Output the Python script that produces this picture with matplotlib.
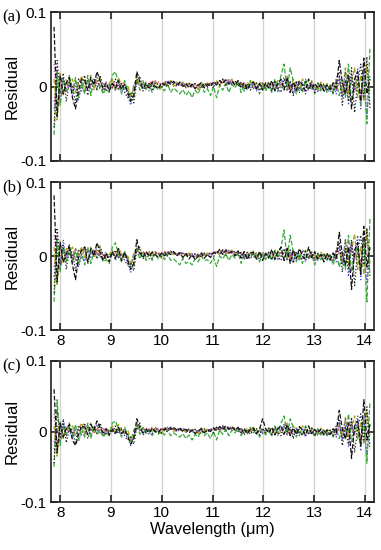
import numpy as np
import matplotlib
matplotlib.use("Agg")
import matplotlib.pyplot as plt

# Wavelength grid (um) and residuals (x1e-3)
wl_start, wl_end, n_pts = 7.88, 14.10, 104
wavelength = np.linspace(wl_start, wl_end, n_pts)

panel_labels = ["(a)", "(b)", "(c)"]
x_ticks = [8, 9, 10, 11, 12, 13, 14]
y_ticks = [-0.1, 0, 0.1]
y_tick_labels = ["-0.1", "0", "0.1"]

a_black = [80, -40, 15, -10, 5, 12, -15, -30, -5, 10,
           8, -5, 12, 2, 20, 8, -3, 5, -6, 4,
           -2, 8, -4, 3, -8, -20, -12, 20, 6, -3,
           4, -2, 6, 0, -3, 5, 2, 6, 3, 7,
           2, 5, 0, 4, -2, 3, -3, 2, 5, -2,
           3, 0, 6, 2, 8, 4, 9, 3, 7, 2,
           8, -2, 5, -4, 3, 6, -3, 4, -5, 5,
           -2, 8, -6, 4, 10, -4, 12, -8, 6, -5,
           8, 2, -6, 10, -3, 4, -2, 3, -6, 2,
           -4, 5, -2, 35, 5, -10, 15, -30, 10, 20,
           -20, 38, -10, 10]
a_black2 = [-55, 35, -10, 18, -20, 6, 2, -22, 10, 4,
            15, -12, 4, 10, -4, 15, 0, -6, 2, -2,
            10, -4, 4, -8, -15, -8, -22, 8, 14, -6,
            0, 4, -4, 5, 2, -2, 6, -1, 8, 4,
            0, 6, 3, -1, 4, -2, 4, 1, -3, 5,
            0, 5, -2, 7, 2, 10, 0, 6, 3, 8,
            0, 6, -6, 4, -5, 2, 5, -6, 6, -2,
            6, -6, 8, -2, -8, 10, 0, 6, -12, 8,
            -2, -6, 8, -4, 6, -8, 4, -2, 4, -6,
            2, -8, 10, 20, -25, 8, -20, 25, -35, 5,
            30, -15, 40, -30]
a_red = [-20, 10, 5, -8, 10, 3, -5, 8, 2, -6,
         10, 3, 6, -4, 8, 2, 5, -2, 3, 0,
         4, -3, 6, 2, -5, -10, -4, 8, 4, 2,
         6, 3, 8, 4, 6, 2, 7, 4, 6, 3,
         5, 2, 4, 1, 3, 0, 2, -1, 3, 1,
         4, 2, 6, 4, 8, 5, 10, 6, 8, 4,
         6, 2, 4, 0, 5, 2, -2, 3, 0, 4,
         2, -3, 5, -2, 4, 0, -6, 3, -4, 2,
         -3, 4, 0, -5, 2, -3, 1, -4, 0, -2,
         -5, 2, -3, 4, -8, 6, -10, 8, -4, 2,
         -6, 5, 0, -3]
a_green = [-65, 20, -25, 10, -5, 15, -8, 12, -15, 5,
           -10, 15, -12, 8, -5, 2, -10, -3, -8, 15,
           20, 5, -10, 8, -5, -18, 2, 10, -5, 8,
           -4, 3, -8, 2, -5, 0, -6, 4, -8, -2,
           -6, -10, -4, -12, -6, -15, -5, -10, 2, -8,
           -3, -12, 0, -15, 2, -5, 4, -8, 3, -2,
           6, -8, 2, -5, 8, -3, 5, -10, 3, -6,
           4, -8, 10, -4, 15, 30, -5, 25, 8, -10,
           5, -8, 10, -5, 3, -10, 5, -6, 2, -8,
           3, -10, 5, -12, 8, -15, 30, -20, 5, 10,
           -25, 20, -50, 52]
a_olive = [10, -45, 18, -12, 8, 0, 10, -8, 5, 14,
           -4, 6, 15, -2, 10, 12, -8, 0, 4, 10,
           -6, 12, 2, -4, 2, -12, -15, 14, 0, 6,
           -3, 5, -2, 8, 0, -4, 6, 2, 8, 0,
           6, 2, 6, -2, 5, 2, 4, -4, 6, 0,
           5, 2, 4, 8, 0, 10, 2, 6, 10, 0,
           4, 6, -2, 6, 0, 8, -2, 6, 2, -4,
           6, 2, -4, 8, -2, 6, 15, -3, 10, 0,
           -6, 10, 4, -3, 8, 0, -5, 6, -3, 4,
           0, -6, 8, 10, -10, 25, -8, 5, 25, -15,
           15, -20, 30, -8]
a_blue = [-30, 5, -20, 12, -8, 2, -12, 5, -18, 0,
          -8, 10, -4, 6, 12, -2, -6, 2, -4, 6,
          -5, 2, -8, 0, -12, -25, -8, 6, 2, -4,
          2, -6, 4, -2, 0, 3, 5, 8, 4, 6,
          3, 6, 2, 5, 0, 4, -2, 3, 0, 2,
          -2, 4, 3, 6, 2, 8, 5, 9, 4, 6,
          2, 5, -3, 2, -2, 4, -6, 2, -4, 3,
          0, -6, 4, -8, 3, 12, -6, 8, -10, 4,
          -8, 6, -10, 2, -5, 3, -8, 0, -6, -3,
          -8, 2, -10, 15, -15, 20, -25, 12, -5, 25,
          -30, 25, -40, 15]
a_magenta = [30, -25, 10, 3, -5, 8, 0, -6, 4, 12,
             2, 8, 0, 10, 4, -3, 2, 6, -2, 3,
             0, 6, -2, 4, -6, -15, -3, 4, 8, 2,
             5, 0, 4, 7, 3, 5, 1, 4, 6, 2,
             4, 0, 5, 2, 4, 1, 3, 0, 2, 4,
             1, 5, 2, 7, 4, 6, 3, 8, 5, 3,
             5, 0, 3, -2, 4, 1, -4, 2, -2, 3,
             0, 4, -3, 2, 6, -5, 4, -6, 2, -4,
             3, -6, 2, -2, 5, -6, 0, 3, -3, 1,
             -5, 3, -6, 8, -12, 10, -5, 18, -8, 15,
             -15, 12, 20, -25]

b_black = [82, -35, 18, -8, 2, 15, -12, -32, -2, 8,
           12, -8, 10, 0, 18, 5, -6, 4, -8, 6,
           -3, 10, -6, 5, -6, -18, -10, 22, 4, -2,
           6, 0, 5, 2, -2, 4, 0, 5, 2, 6,
           0, 4, -2, 3, -4, 2, -5, 0, 4, -3,
           2, -2, 5, 3, 9, 2, 8, 4, 6, 0,
           7, -3, 6, -5, 4, 5, -4, 6, -6, 4,
           -3, 9, -5, 6, 12, -6, 10, -10, 8, -4,
           10, 0, -5, 12, -2, 6, -4, 2, -8, 4,
           -5, 4, -3, 32, 2, -12, 12, -45, 8, 18,
           -25, 40, -15, 12]
b_black2 = [-50, 38, -12, 15, -18, 8, 4, -20, 8, 6,
            12, -10, 6, 8, -2, 12, 2, -4, 0, 0,
            8, -2, 2, -6, -12, -10, -20, 10, 12, -4,
            2, 3, -3, 4, 3, -1, 5, 0, 6, 5,
            1, 5, 2, 0, 3, -1, 3, 2, -2, 4,
            1, 4, -1, 6, 3, 8, 1, 5, 4, 7,
            1, 5, -5, 5, -4, 3, 4, -5, 5, -1,
            5, -5, 7, -1, -6, 8, 1, 5, -10, 6,
            -1, -5, 6, -3, 5, -6, 3, -1, 3, -5,
            1, -6, 8, 18, -22, 10, -18, 22, -40, 8,
            28, -12, 38, -28]
b_red = [-15, 15, 2, -10, 8, 5, -3, 10, 4, -4,
         12, 5, 8, -2, 6, 0, 4, -3, 2, 2,
         5, -2, 4, 3, -4, -8, -2, 10, 3, 4,
         5, 2, 6, 5, 4, 3, 6, 5, 7, 2,
         4, 3, 3, 0, 2, -1, 1, -2, 2, 2,
         3, 3, 5, 5, 7, 6, 9, 5, 7, 5,
         5, 3, 3, 1, 4, 3, -1, 4, 1, 3,
         3, -2, 4, -1, 5, 1, -5, 4, -3, 3,
         -2, 5, 1, -4, 3, -2, 2, -3, 1, -1,
         -4, 3, -2, 5, -6, 8, -12, 6, -2, 4,
         -8, 6, 2, -2]
b_green = [-62, 25, -22, 12, -8, 12, -6, 10, -12, 3,
           -12, 12, -10, 6, -3, 4, -8, -5, -10, 12,
           18, 3, -8, 6, -4, -15, 4, 8, -4, 6,
           -6, 2, -6, 4, -4, 2, -5, 3, -6, -4,
           -8, -12, -3, -10, -8, -12, -4, -8, 0, -6,
           -5, -10, -2, -14, 0, -4, 3, -6, 2, -3,
           5, -10, 3, -4, 6, -2, 4, -8, 2, -5,
           5, -6, 8, -3, 12, 35, -4, 28, 6, -8,
           4, -10, 8, -4, 2, -12, 4, -5, 3, -6,
           2, -12, 4, -15, 6, -18, 28, -22, 4, 12,
           -20, 25, -62, 50]
b_olive = [12, -40, 20, -10, 10, 2, 12, -6, 3, 12,
           -2, 8, 12, 0, 8, 14, -6, 2, 2, 8,
           -4, 10, 4, -2, 0, -10, -14, 12, 2, 4,
           -2, 6, 0, 6, 2, -3, 5, 3, 6, 2,
           5, 3, 5, 0, 4, 3, 3, -3, 5, 1,
           4, 3, 3, 7, 1, 9, 3, 5, 8, 1,
           3, 5, -1, 5, 1, 7, -1, 5, 3, -3,
           5, 3, -3, 7, -1, 5, 12, -2, 8, 2,
           -5, 8, 5, -2, 6, 1, -4, 5, -2, 3,
           1, -5, 6, 12, -12, 22, -10, 8, 30, -18,
           12, -25, 35, -10]
b_blue = [-28, 8, -18, 22, -6, 4, -10, 6, -15, 2,
          -6, 8, -2, 8, 10, 0, -4, 3, -2, 5,
          -6, 3, -6, 2, -10, -22, -6, 8, 3, -2,
          3, -4, 5, 0, 1, 2, 4, 6, 5, 5,
          2, 5, 3, 4, 1, 3, -1, 2, 1, 3,
          -1, 3, 4, 5, 3, 7, 6, 8, 5, 5,
          3, 4, -2, 3, -1, 3, -5, 3, -3, 2,
          1, -5, 5, -6, 4, 10, -5, 10, -8, 5,
          -6, 8, -8, 3, -4, 4, -6, 1, -5, -2,
          -6, 3, -8, 18, -12, 22, -28, 15, -4, 28,
          -32, 22, -38, 12]
b_magenta = [28, -20, 12, 5, -3, 10, 2, -4, 6, 10,
             4, 10, 2, 8, 3, -2, 3, 5, -1, 4,
             1, 5, -1, 5, -5, -12, -2, 5, 6, 3,
             4, 1, 3, 6, 4, 4, 2, 5, 5, 3,
             3, 1, 4, 3, 3, 2, 2, 1, 3, 3,
             2, 4, 3, 6, 5, 5, 4, 7, 4, 4,
             4, 1, 2, -1, 3, 2, -3, 3, -1, 2,
             1, 3, -2, 3, 5, -4, 5, -5, 3, -3,
             2, -5, 3, -1, 4, -5, 1, 2, -2, 2,
             -4, 4, -5, 10, -10, 12, -6, 20, -6, 18,
             -12, 15, 25, -20]

c_black = [60, -30, 12, -8, 4, 10, -12, -20, -4, 8,
           6, -4, 10, 2, 15, 6, -2, 4, -5, 3,
           -2, 6, -3, 2, -6, -18, -10, 18, 5, -2,
           3, -2, 5, 0, -2, 4, 2, 5, 3, 6,
           2, 4, 0, 3, -2, 2, -3, 1, 4, -2,
           2, 0, 5, 2, 7, 3, 8, 3, 6, 2,
           6, -2, 4, -3, 3, 5, -3, 3, 18, 4,
           -2, 6, -5, 4, 8, -4, 10, -6, 5, -4,
           7, 2, -5, 8, -3, 3, -2, 3, -5, 2,
           -4, 4, -2, 30, 4, -10, 12, -38, 8, 15,
           -20, 45, -12, 10]
c_black2 = [-45, 30, -8, 15, -16, 5, 2, -18, 8, 4,
            12, -10, 4, 8, -3, 12, 0, -5, 2, -2,
            8, -3, 3, -6, -12, -8, -18, 6, 12, -5,
            0, 3, -3, 4, 2, -2, 5, -1, 6, 3,
            0, 5, 2, -1, 3, -2, 3, 1, -3, 4,
            0, 4, -2, 6, 2, 8, 0, 5, 3, 6,
            0, 5, -5, 3, -4, 2, 4, -5, 5, -2,
            5, -5, 6, -2, -6, 8, 0, 5, -10, 6,
            -2, -5, 6, -3, 5, -6, 3, -2, 3, -5,
            2, -6, 8, 18, -20, 6, -18, 20, -30, 5,
            25, -12, 35, -25]
c_red = [-15, 8, 4, -6, 8, 2, -4, 6, 2, -5,
         8, 2, 5, -3, 6, 2, 4, -2, 2, 0,
         3, -2, 5, 2, -4, -8, -3, 6, 3, 2,
         5, 2, 6, 3, 5, 2, 6, 4, 5, 3,
         4, 2, 3, 1, 2, 0, 2, -1, 2, 1,
         3, 2, 5, 3, 6, 4, 8, 5, 6, 3,
         5, 2, 3, 0, 4, 2, -2, 2, 0, 3,
         2, -2, 4, -2, 3, 0, -5, 2, -3, 2,
         -2, 3, 0, -4, 2, -2, 1, -3, 0, -2,
         -4, 2, -2, 3, -6, 5, -8, 6, -3, 2,
         -5, 4, 0, -2]
c_green = [-50, 45, -20, 8, -4, 12, -6, 10, -12, 4,
           -8, 12, -10, 6, -4, 2, -8, -2, -6, 12,
           15, 4, -8, 6, -4, -15, 2, 8, -4, 6,
           -3, 2, -6, 2, -4, 0, -5, 3, -6, -2,
           -5, -8, -3, -10, -5, -12, -4, -8, 2, -6,
           -2, -10, 0, -12, 2, -4, 3, -6, 2, -2,
           5, -6, 2, -4, 6, -2, 4, -8, 3, -5,
           3, -6, 8, -3, 12, 22, -4, 18, 6, -8,
           4, -6, 8, -4, 3, -8, 4, -5, 2, -6,
           2, -8, 4, -10, 6, -12, 25, -15, 4, 8,
           -20, 18, -45, 42]
c_olive = [8, -35, 15, -10, 6, 0, 8, -6, 4, 12,
           -3, 5, 12, -2, 8, 10, -6, 0, 3, 8,
           -5, 10, 2, -3, 2, -10, -12, 12, 0, 5,
           -2, 4, -2, 6, 0, -3, 5, 2, 6, 0,
           5, 2, 5, -2, 4, 2, 3, -3, 5, 0,
           4, 2, 3, 6, 0, 8, 2, 5, 8, 0,
           3, 5, -2, 5, 0, 6, -2, 5, 2, -3,
           5, 2, -3, 6, -2, 5, 12, -3, 8, 0,
           -5, 8, 3, -3, 6, 0, -4, 5, -3, 3,
           0, -5, 6, 10, -8, 20, -6, 5, 22, -12,
           12, -18, 28, -6]
c_blue = [-25, 5, -15, 18, -6, 2, -10, 4, -14, 0,
          -6, 8, -3, 5, 10, -2, -5, 2, -3, 5,
          -4, 2, -6, 0, -10, -20, -6, 5, 2, -3,
          2, -5, 4, -1, 0, 3, 4, 6, 4, 5,
          2, 5, 2, 4, 0, 3, -2, 2, 0, 2,
          -1, 3, 3, 5, 2, 6, 4, 7, 4, 5,
          2, 4, -2, 2, -1, 3, -5, 2, -3, 2,
          0, -5, 4, -6, 3, 10, -5, 6, -8, 4,
          -6, 5, -8, 2, -4, 3, -6, 0, -5, -2,
          -6, 2, -8, 14, -12, 18, -22, 10, -4, 22,
          -28, 20, -35, 12]
c_magenta = [25, -18, 8, 3, -4, 6, 0, -5, 3, 10,
             2, 6, 0, 8, 3, -2, 2, 5, -2, 3,
             0, 5, -2, 3, -5, -12, -3, 4, 6, 2,
             4, 0, 3, 6, 3, 4, 1, 4, 5, 2,
             3, 0, 4, 2, 3, 1, 2, 0, 2, 3,
             1, 4, 2, 6, 3, 5, 3, 6, 4, 3,
             4, 0, 2, -2, 3, 1, -3, 2, -2, 2,
             0, 3, -3, 2, 5, -4, 4, -5, 2, -3,
             2, -5, 2, -2, 4, -5, 0, 2, -3, 1,
             -4, 3, -5, 8, -10, 8, -5, 15, -6, 12,
             -12, 10, 18, -20]

panels = [
    [a_red, a_magenta, a_olive, a_blue, a_green, a_black2, a_black],
    [b_red, b_magenta, b_olive, b_blue, b_green, b_black2, b_black],
    [c_red, c_magenta, c_olive, c_blue, c_green, c_black2, c_black],
]
series_colors = ["#e03a3a", "#c040c0", "#a8a020", "#4848d8", "#3aa83a",
                 "#222222", "#111111"]
series_styles = [":", ":", "--", ":", "--", ":", "--"]

plt.rcParams["font.family"] = ["Liberation Sans", "DejaVu Sans"]
fig = plt.figure(figsize=(3.81, 5.5), dpi=100)

W = 381.0
H = 550.0
boxes = [(51, 12, 374, 161), (51, 182, 374, 330), (51, 361, 374, 502)]

for k, (series_list, box) in enumerate(zip(panels, boxes)):
    l, t, r, b = box
    ax = fig.add_axes([l / W, (H - b) / H, (r - l) / W, (b - t) / H])
    for vals, c, ls in zip(series_list, series_colors, series_styles):
        ax.plot(wavelength, np.array(vals) / 1000.0, color=c, ls=ls, lw=0.9)
    ax.set_xlim(7.82, 14.18)
    ax.set_ylim(-0.1, 0.1)
    ax.set_xticks(x_ticks)
    ax.set_yticks(y_ticks)
    ax.set_yticklabels(y_tick_labels)
    ax.grid(axis="x", color="#d4d4d4", lw=1.0)
    ax.set_axisbelow(True)
    ax.tick_params(direction="in", length=5, width=1.2, top=True, right=True,
                   labelsize=11, pad=3, color="#222222")
    for sp in ax.spines.values():
        sp.set_linewidth(1.2)
        sp.set_color("#222222")
    ax.set_ylabel("Residual", fontsize=12, labelpad=1)
    if k == 0:
        ax.tick_params(labelbottom=False)
    if k == 2:
        ax.set_xlabel("Wavelength (\u03bcm)", fontsize=11.8, labelpad=1)
    fig.text(2 / W, (H - t + 3) / H, panel_labels[k], fontsize=12,
             family=["Liberation Serif", "DejaVu Serif"], va="top", ha="left")

fig.savefig("out.png", dpi=100)
